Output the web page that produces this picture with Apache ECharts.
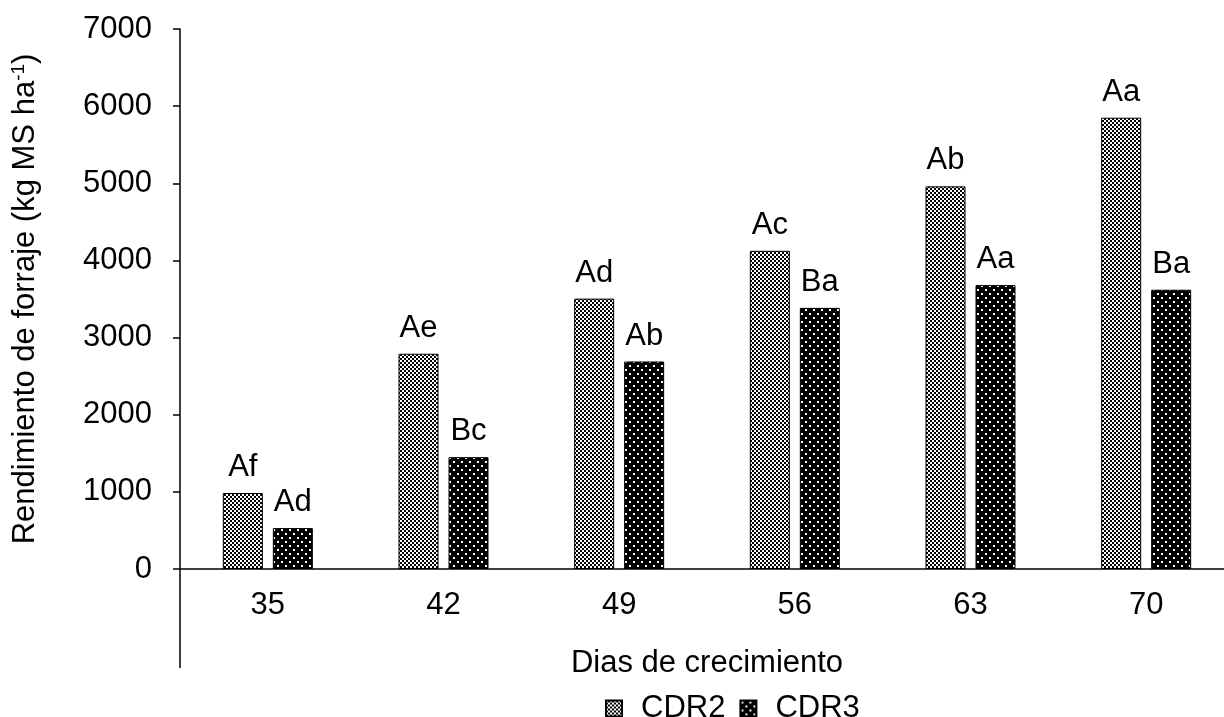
<!DOCTYPE html>
<html>
<head>
<meta charset="utf-8">
<script src="https://cdn.jsdelivr.net/npm/echarts@6/dist/echarts.min.js"></script>
<style>
  html, body { margin: 0; padding: 0; background: #fff; }
  #chart { width: 1224px; height: 717px; }
</style>
</head>
<body>
<div id="chart"></div>
<script>
var days = ['35', '42', '49', '56', '63', '70'];
var cdr2 = [985, 2790, 3505, 4125, 4960, 5850];
var cdr3 = [530, 1450, 2690, 3385, 3680, 3620];
var cdr2Letters = ['Af', 'Ae', 'Ad', 'Ac', 'Ab', 'Aa'];
var cdr3Letters = ['Ad', 'Bc', 'Ab', 'Ba', 'Aa', 'Ba'];
var yTicks = [0, 1000, 2000, 3000, 4000, 5000, 6000, 7000];

var font = 'Liberation Sans, Arial, sans-serif';
var fs = 31;

// checkerboard fill for CDR2
function checker() {
  var c = document.createElement('canvas');
  c.width = 4; c.height = 4;
  var ctx = c.getContext('2d');
  ctx.fillStyle = '#000';
  ctx.fillRect(0, 0, 4, 4);
  ctx.fillStyle = '#fff';
  ctx.fillRect(0, 0, 2, 2);
  ctx.fillRect(2, 2, 2, 2);
  return c;
}
// black with white dots for CDR3
function dots() {
  var c = document.createElement('canvas');
  c.width = 8; c.height = 8;
  var ctx = c.getContext('2d');
  ctx.fillStyle = '#000';
  ctx.fillRect(0, 0, 8, 8);
  ctx.fillStyle = '#fff';
  ctx.fillRect(1, 1, 2, 2);
  ctx.fillRect(5, 5, 2, 2);
  return c;
}

var chartDom = document.getElementById('chart');
var myChart = echarts.init(chartDom);

function letterLabel(letters) {
  return {
    show: true,
    position: 'top',
    distance: 10,
    color: '#000',
    fontSize: fs,
    fontFamily: font,
    formatter: function (p) { return letters[p.dataIndex]; }
  };
}

var option = {
  animation: false,
  backgroundColor: '#fff',
  grid: { left: 180, top: 29, width: 1054, height: 540, containLabel: false, outerBoundsMode: 'none' },
  legend: {
    top: 688,
    left: 600,
    itemWidth: 16,
    itemHeight: 16,
    itemGap: 14,
    icon: 'rect',
    textStyle: { fontSize: fs, fontFamily: font, color: '#000', padding: [0, 0, 0, 14] },
    data: ['CDR2', 'CDR3']
  },
  xAxis: {
    type: 'category',
    data: days,
    name: 'Dias de crecimiento',
    nameLocation: 'middle',
    nameGap: 79,
    nameTextStyle: { fontSize: fs, fontFamily: font, color: '#000' },
    axisLine: { lineStyle: { color: '#000', width: 1.5 } },
    axisTick: { length: 56, lineStyle: { color: '#000', width: 1.5 } },
    axisLabel: { fontSize: fs, fontFamily: font, color: '#000', margin: 21 }
  },
  yAxis: {
    type: 'value',
    min: yTicks[0],
    max: yTicks[yTicks.length - 1],
    interval: 1000,
    name: '{a|Rendimiento de forraje (kg MS ha}{s|-1}{a|)}',
    nameLocation: 'middle',
    nameGap: 138,
    nameTextStyle: {
      rich: {
        a: { fontSize: fs, fontFamily: font, color: '#000' },
        s: { fontSize: 19, fontFamily: font, color: '#000', verticalAlign: 'top', padding: [0, 0, 14, 0] }
      }
    },
    splitLine: { show: false },
    axisLine: { show: true, lineStyle: { color: '#000', width: 1.5 } },
    axisTick: { show: true, length: 7, lineStyle: { color: '#000', width: 1.5 } },
    axisLabel: {
      fontSize: fs, fontFamily: font, color: '#000', margin: 28,
      formatter: function (v) { return String(v); }
    }
  },
  series: [
    {
      name: 'CDR2',
      type: 'bar',
      data: cdr2,
      barWidth: 40,
      barGap: '25%',
      itemStyle: { color: { image: checker(), repeat: 'repeat' }, borderColor: '#000', borderWidth: 1 },
      label: letterLabel(cdr2Letters)
    },
    {
      name: 'CDR3',
      type: 'bar',
      data: cdr3,
      barWidth: 40,
      itemStyle: { color: { image: dots(), repeat: 'repeat' }, borderColor: '#000', borderWidth: 1 },
      label: letterLabel(cdr3Letters)
    }
  ]
};

myChart.setOption(option);

// extend the y axis line below the category axis
var p0 = myChart.convertToPixel({ gridIndex: 0 }, [0, 0]);
myChart.setOption({
  graphic: [{
    type: 'line',
    shape: { x1: 180, y1: p0[1], x2: 180, y2: p0[1] + 99 },
    style: { stroke: '#000', lineWidth: 1.5 }
  }]
});
</script>
</body>
</html>
